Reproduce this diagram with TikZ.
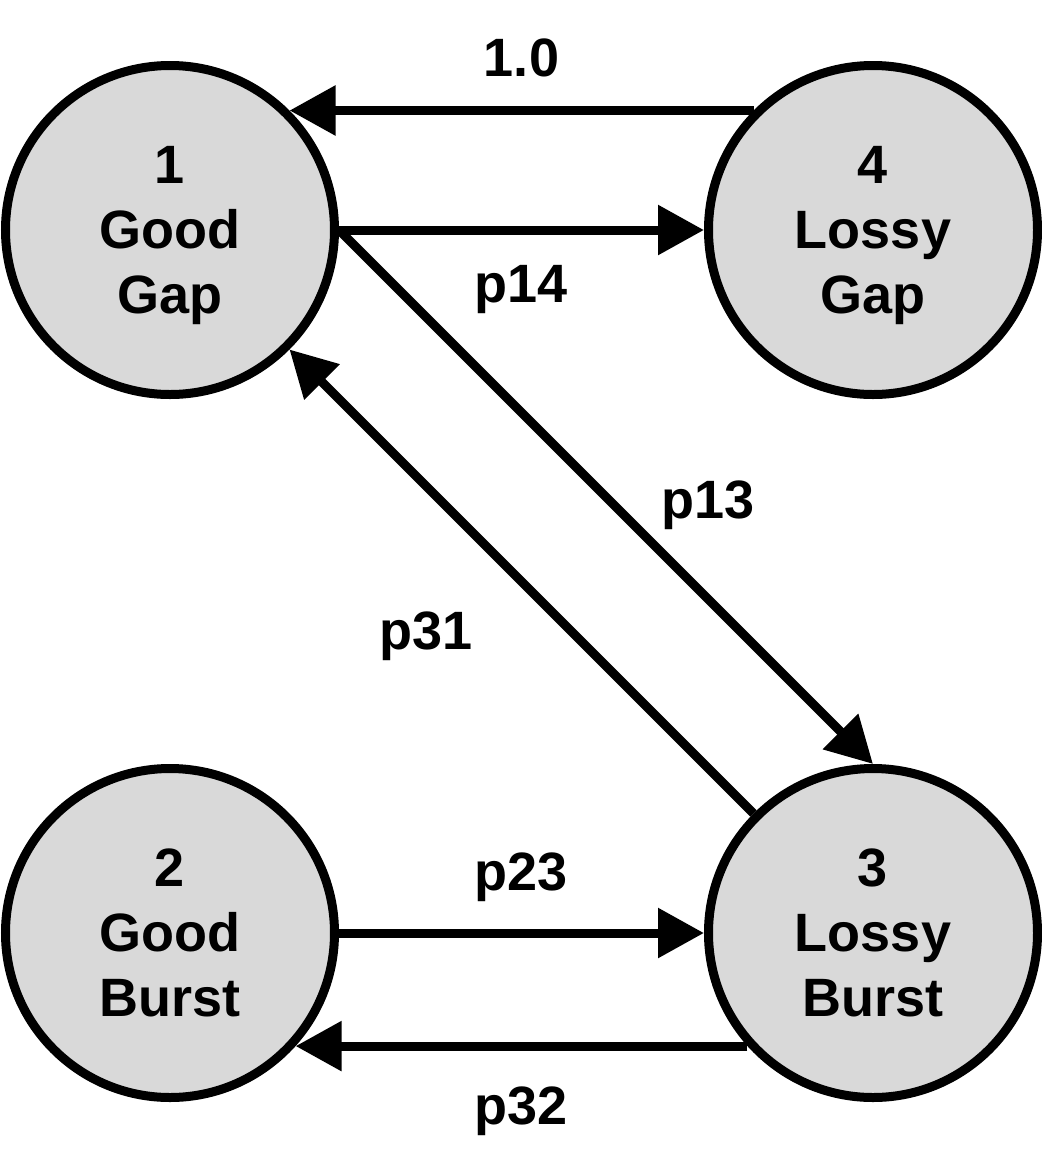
\documentclass[tikz,border=0pt]{standalone}
\usepackage{fontspec}
\setmainfont{Liberation Sans}
\usetikzlibrary{arrows.meta, automata, positioning}
\colorlet{colorState}{black!15}
\tikzset{every state/.style={fill=colorState, draw=black, minimum size=329pt, inner sep=0pt, align=center, text depth=-6pt}}

\begin{document}
\begin{tikzpicture}[>={Triangle[length=46pt,width=48pt]}, line width=9pt, node distance=703pt, x=1pt, y=-1pt, every node/.style={inner sep=0pt, font=\fontsize{54}{65}\selectfont\bfseries}]
\useasboundingbox (0,0) rectangle (1042,1171);
\node[state] (q1) at (170,230) {1\\Good\\Gap};
\node[state, right of=q1] (q4) {4\\Lossy\\Gap};
\node[state, below of=q4] (q3) {3\\Lossy\\Burst};
\node[state, left of=q3] (q2) {2\\Good\\Burst};
\draw [->] (q4.135) -- node [yshift=53pt] (l41) {1.0} (q1.45);
\draw [->] (q1.east) -- node [yshift=-60pt] (l14) {p14} (q4.west);
\draw [->] (q1.east) -- node [xshift=102pt, yshift=-8pt] (l13) {p13} (q3.north);
\draw [->] (q3.135) -- node [pos=0.394, xshift=-145pt, yshift=-6pt] (l31) {p31} (q1.-45);
\draw [->] (q2.east) -- node [yshift=56pt] (l23) {p23} (q3.west);
\draw [->] (q3.222) -- node [yshift=-65pt] (l32) {p32} (q2.318);
\end{tikzpicture}
\end{document}
